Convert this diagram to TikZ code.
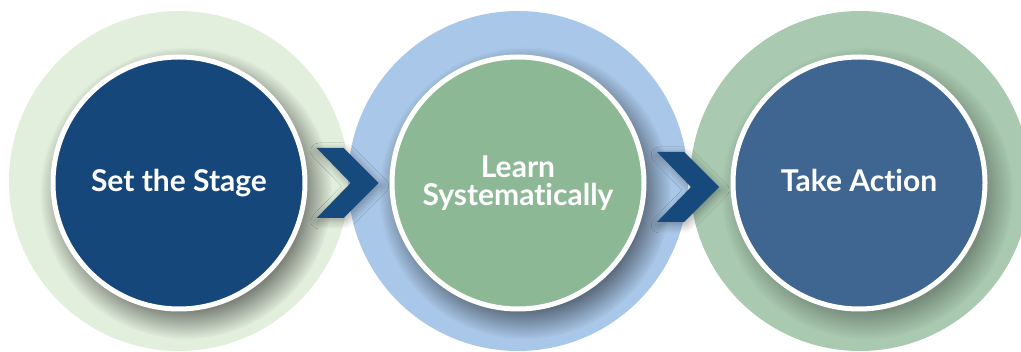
\documentclass[tikz,border=0pt]{standalone}
\usepackage{fontspec}
\setmainfont{Lato}[Ligatures=NoCommon]
\usetikzlibrary{shadows.blur, fadings}

\definecolor{ringgreen}{HTML}{E2EFDD}
\definecolor{ringblue}{HTML}{A9C7E8}
\definecolor{ringsage}{HTML}{A9C9B0}
\definecolor{stageblue}{HTML}{16477A}
\definecolor{learngreen}{HTML}{8DB896}
\definecolor{actionblue}{HTML}{3F6591}
\definecolor{chevblue}{HTML}{164A7C}

\begin{document}
\begin{tikzpicture}[x=1pt, y=-1pt]
	\tikzstyle{ring}=[circle, minimum size=340pt, inner sep=0pt]
	\tikzstyle{stepcircle}=[circle, draw=white, line width=5pt, minimum size=252pt, inner sep=0pt,
		text=white, font=\fontsize{30}{28}\selectfont\bfseries, align=center]
	\tikzstyle{stepshadow}=[fill=black, opacity=.45, path fading=circle with fuzzy edge 20 percent]
	\tikzstyle{chevron}=[fill=chevblue,
		blur shadow={shadow xshift=2pt, shadow yshift=-3pt, shadow blur steps=8, shadow blur radius=8pt, shadow opacity=35}]
	\useasboundingbox (0, 0) rectangle (1021, 352);
	\clip (0, 0) rectangle (1021, 352);

	% outer rings
	\draw node[ring, fill=ringgreen] at (179, 181) (ring1) {};
	\draw node[ring, fill=ringblue] at (518, 181) (ring2) {};
	\draw node[ring, fill=ringsage] at (860, 181) (ring3) {};

	% soft shadows under the steps
	\fill[stepshadow] ([shift={(7, 12)}]ring1.center) circle (146);
	\fill[stepshadow] ([shift={(7, 12)}]ring2.center) circle (146);
	\fill[stepshadow, opacity=.3] ([shift={(7, 12)}]ring3.center) circle (146);

	% steps
	\draw node[stepcircle, fill=stageblue] at (179, 183) (stage) {Set the Stage};
	\draw node[stepcircle, fill=learngreen] at (518, 183) (learn) {Learn\\Systematically};
	\draw node[stepcircle, fill=actionblue] at (859, 183) (action) {\vphantom{g}Take Action};

	% chevrons between the steps
	\path (stage) -- (learn) coordinate[pos=.49] (c1);
	\path (learn) -- (action) coordinate[pos=.495] (c2);
	\fill[chevron] ([shift={(-31,-35)}]c1) -- ++(27,0) -- ++(35,35) -- ++(-35,35) -- ++(-27,0) -- ++(34,-35) -- cycle;
	\fill[chevron] ([shift={(-31,-31)}]c2) -- ++(27,0) -- ++(35,35) -- ++(-35,35) -- ++(-27,0) -- ++(34,-35) -- cycle;
\end{tikzpicture}
\end{document}
